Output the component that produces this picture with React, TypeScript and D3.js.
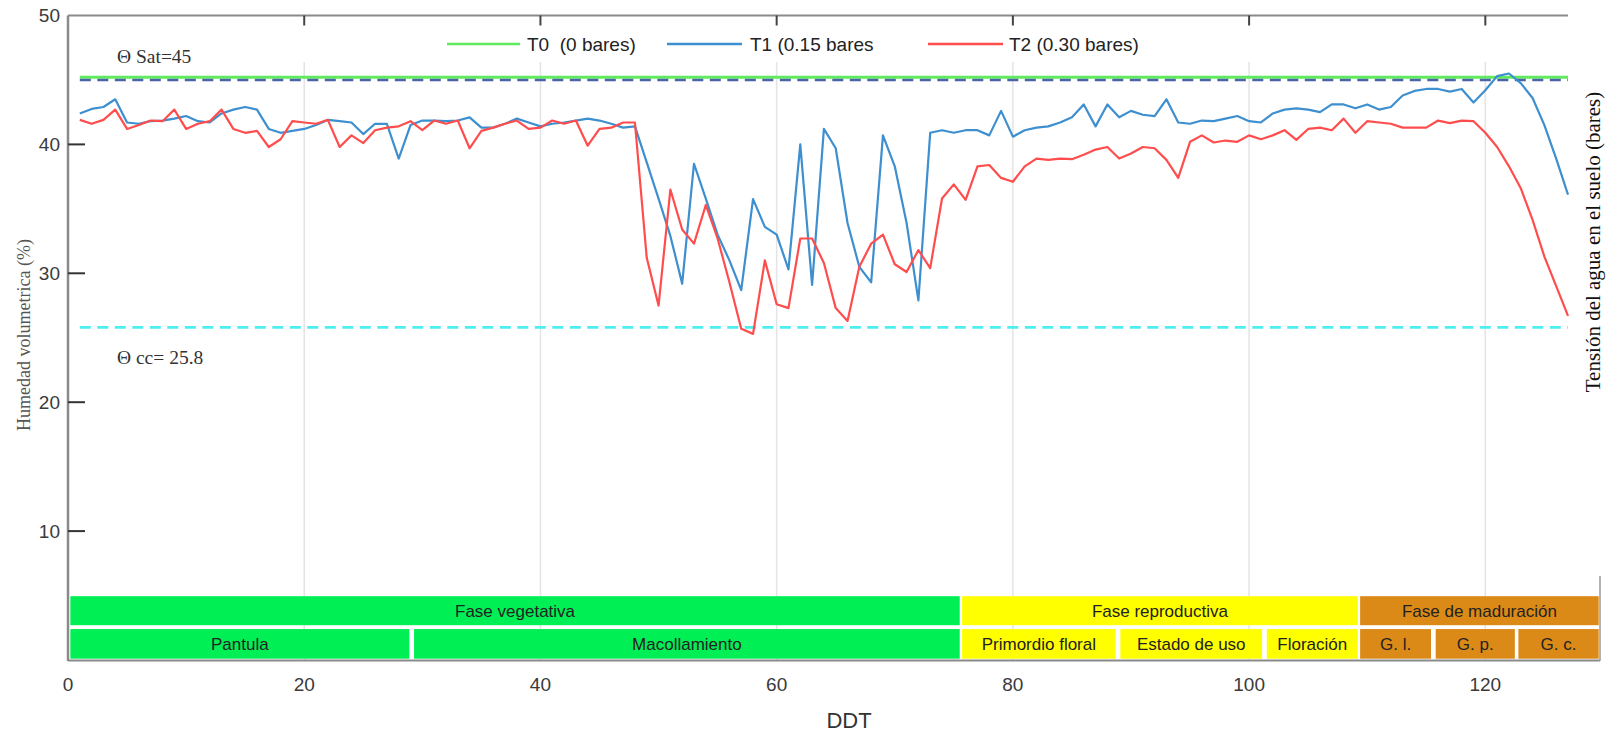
import React, { useEffect } from "react";
import * as d3 from "d3";

// ---------- data ----------
const t1Values = [
  42.4, 42.75, 42.9, 43.5, 41.7, 41.6, 41.8, 41.85, 42.0, 42.2,
  41.8, 41.7, 42.4, 42.7, 42.9, 42.7, 41.2, 40.9, 41.05, 41.2,
  41.5, 41.9, 41.8, 41.7, 40.8, 41.6, 41.6, 38.9, 41.5, 41.85,
  41.85, 41.8, 41.85, 42.1, 41.3, 41.3, 41.6, 42.0, 41.7, 41.4,
  41.6, 41.7, 41.85, 42.0, 41.85, 41.6, 41.3, 41.4, 38.6, 35.8,
  32.9, 29.2, 38.5, 35.8, 33.0, 31.0, 28.7, 35.75, 33.6, 33.0,
  30.3, 40.0, 29.1, 41.2, 39.7, 33.9, 30.5, 29.3, 40.7, 38.3,
  33.9, 27.9, 40.9, 41.1, 40.9, 41.1, 41.1, 40.7, 42.6, 40.6,
  41.1, 41.3, 41.4, 41.7, 42.1, 43.1, 41.4, 43.1, 42.1, 42.6,
  42.3, 42.2, 43.5, 41.7, 41.6, 41.85, 41.8, 42.0, 42.2, 41.8,
  41.7, 42.4, 42.7, 42.8, 42.7, 42.5, 43.1, 43.1, 42.8, 43.1,
  42.7, 42.9, 43.8, 44.15, 44.3, 44.3, 44.1, 44.3, 43.25, 44.2,
  45.3, 45.5, 44.75, 43.6, 41.5, 38.9, 36.1,
];
const t2Values = [
  41.9, 41.6, 41.9, 42.7, 41.2, 41.5, 41.85, 41.8, 42.7, 41.2,
  41.6, 41.8, 42.7, 41.2, 40.9, 41.05, 39.8, 40.4, 41.8, 41.7,
  41.6, 41.9, 39.8, 40.7, 40.1, 41.1, 41.3, 41.4, 41.8, 41.1,
  41.85, 41.6, 41.85, 39.7, 41.05, 41.3, 41.6, 41.85, 41.2, 41.3,
  41.85, 41.6, 41.85, 39.9, 41.2, 41.3, 41.7, 41.7, 31.2, 27.5,
  36.5, 33.4, 32.3, 35.3, 32.7, 29.3, 25.7, 25.3, 31.0, 27.6,
  27.3, 32.7, 32.7, 30.8, 27.3, 26.3, 30.5, 32.3, 33.0, 30.7,
  30.1, 31.8, 30.4, 35.8, 36.9, 35.7, 38.3, 38.4, 37.4, 37.1,
  38.3, 38.9, 38.8, 38.9, 38.85, 39.2, 39.6, 39.8, 38.9, 39.3,
  39.8, 39.7, 38.8, 37.4, 40.2, 40.7, 40.15, 40.3, 40.2, 40.7,
  40.4, 40.7, 41.1, 40.35, 41.2, 41.3, 41.1, 42.0, 40.9, 41.8,
  41.7, 41.6, 41.3, 41.3, 41.3, 41.85, 41.65, 41.85, 41.8, 40.9,
  39.8, 38.3, 36.6, 34.15, 31.3, 29.0, 26.7,
];
const t0Value = 45.2;
const thetaSat = 45;
const thetaCc = 25.8;
const firstDay = 1;

const xTicks = [0, 20, 40, 60, 80, 100, 120];
const yTicks = [10, 20, 30, 40, 50];

const legendLabels = ["T0  (0 bares)", "T1 (0.15 bares", "T2 (0.30 bares)"];

const phaseLabels = ["Fase vegetativa", "Fase reproductiva", "Fase de maduración"];
const phaseStart = [0.2, 75.7, 109.4];
const phaseEnd = [75.5, 109.2, 129.6];

const stageLabels = ["Pantula", "Macollamiento", "Primordio floral", "Estado de uso", "Floración", "G. l.", "G. p.", "G. c."];
const stageStart = [0.2, 29.3, 75.7, 89.1, 101.5, 109.4, 115.8, 122.8];
const stageEnd = [28.9, 75.5, 88.7, 101.1, 109.2, 115.4, 122.5, 129.6];
const stagePhase = [0, 0, 1, 1, 1, 2, 2, 2];

// ---------- layout / style ----------
const W = 1607;
const H = 734;
const X0 = 68;
const X1 = 1568;
const Y0 = 660;
const Y1 = 15.5;
const phaseColors = ["#00ef55", "#ffff00", "#dc8a17"];
const colT0 = "#5eec5e";
const colT1 = "#3d8fcf";
const colT2 = "#ff4d4d";
const colSat = "#4a62a6";
const colCc = "#4eeef0";
const SANS = "'Liberation Sans', Arial, sans-serif";
const SERIF = "'Liberation Serif', 'Times New Roman', serif";
const topBand = [2.7, 4.95];
const bottomBand = [0.1, 2.4];
const legendLineX = [[447, 520], [667, 742], [928, 1003]];
const legendTextX = [527, 750, 1009];
const legendY = 44;

export default function App() {
  useEffect(() => {
    document.body.style.margin = "0";
  }, []);

  const x = d3.scaleLinear().domain([0, 127]).range([X0, X1]);
  const y = d3.scaleLinear().domain([0, 50]).range([Y0, Y1]);

  const line = d3
    .line<number>()
    .x((_, i) => x(firstDay + i))
    .y((d) => y(d));

  const lastDay = firstDay + t1Values.length - 1;
  const legendColors = [colT0, colT1, colT2];

  return (
    <svg
      width={W}
      height={H}
      style={{ position: "absolute", left: 0, top: 0, display: "block", background: "#fff" }}
    >
      <rect x={0} y={0} width={W} height={H} fill="#fff" />
      {/* vertical grid */}
      {xTicks.filter((t) => t > 0).map((t) => (
        <line key={"g" + t} x1={x(t)} x2={x(t)} y1={62} y2={Y0} stroke="#e4e4e4" strokeWidth={1.5} />
      ))}

      {/* reference lines */}
      <line x1={x(firstDay)} x2={x(lastDay)} y1={y(t0Value)} y2={y(t0Value)} stroke={colT0} strokeWidth={3} />
      <line x1={x(firstDay)} x2={x(lastDay)} y1={y(thetaSat)} y2={y(thetaSat)} stroke={colSat} strokeWidth={2.6} strokeDasharray="11 6.5" />
      <line x1={x(firstDay)} x2={x(lastDay)} y1={y(thetaCc)} y2={y(thetaCc)} stroke={colCc} strokeWidth={2.8} strokeDasharray="11 6.5" />

      {/* data */}
      <path d={line(t1Values) || ""} fill="none" stroke={colT1} strokeWidth={2.2} strokeLinejoin="round" />
      <path d={line(t2Values) || ""} fill="none" stroke={colT2} strokeWidth={2.2} strokeLinejoin="round" />

      {/* phase bars */}
      {phaseLabels.map((lab, i) => (
        <g key={"p" + i}>
          <rect
            x={x(phaseStart[i])}
            width={x(phaseEnd[i]) - x(phaseStart[i])}
            y={y(topBand[1])}
            height={y(topBand[0]) - y(topBand[1])}
            fill={phaseColors[i]}
          />
          <text
            x={(x(phaseStart[i]) + x(phaseEnd[i])) / 2}
            y={(y(topBand[0]) + y(topBand[1])) / 2}
            dy="0.36em"
            textAnchor="middle"
            fontFamily={SANS}
            fontSize={17}
            fill="#222"
          >
            {lab}
          </text>
        </g>
      ))}
      {stageLabels.map((lab, i) => (
        <g key={"s" + i}>
          <rect
            x={x(stageStart[i])}
            width={x(stageEnd[i]) - x(stageStart[i])}
            y={y(bottomBand[1])}
            height={y(bottomBand[0]) - y(bottomBand[1])}
            fill={phaseColors[stagePhase[i]]}
          />
          <text
            x={(x(stageStart[i]) + x(stageEnd[i])) / 2}
            y={(y(bottomBand[0]) + y(bottomBand[1])) / 2}
            dy="0.36em"
            textAnchor="middle"
            fontFamily={SANS}
            fontSize={17}
            fill="#222"
          >
            {lab}
          </text>
        </g>
      ))}

      {/* axes */}
      <line x1={X0} x2={X1} y1={Y1} y2={Y1} stroke="#8a8a8a" strokeWidth={2.2} />
      <line x1={X0} x2={X0} y1={Y1} y2={Y0 + 1} stroke="#8a8a8a" strokeWidth={2.5} />
      <line x1={X0} x2={1600} y1={Y0 + 0.5} y2={Y0 + 0.5} stroke="#8a8a8a" strokeWidth={2.2} />
      <line x1={1600} x2={1600} y1={576} y2={Y0 + 1} stroke="#9a9a9a" strokeWidth={1.5} />
      {xTicks.filter((t) => t > 0).map((t) => (
        <line key={"tt" + t} x1={x(t)} x2={x(t)} y1={Y1} y2={Y1 + 10} stroke="#444" strokeWidth={2} />
      ))}
      {yTicks.filter((t) => t < 50).map((t) => (
        <line key={"yt" + t} x1={X0} x2={X0 + 17} y1={y(t)} y2={y(t)} stroke="#333" strokeWidth={2} />
      ))}
      {yTicks.map((t) => (
        <text key={"yl" + t} x={60} y={y(t)} dy="0.36em" textAnchor="end" fontFamily={SANS} fontSize={19} fill="#3a3a3a">
          {t}
        </text>
      ))}
      {xTicks.map((t) => (
        <text key={"xl" + t} x={x(t)} y={684} dy="0.36em" textAnchor="middle" fontFamily={SANS} fontSize={19} fill="#3a3a3a">
          {t}
        </text>
      ))}
      <text x={849} y={720} dy="0.36em" textAnchor="middle" fontFamily={SANS} fontSize={22} fill="#333">
        DDT
      </text>

      {/* annotations */}
      <text x={117} y={63} fontFamily={SERIF} fontSize={19.5} fill="#333">Θ Sat=45</text>
      <text x={117} y={364} fontFamily={SERIF} fontSize={19.5} fill="#333">Θ cc= 25.8</text>

      {/* axis titles */}
      <text
        transform={`translate(23.5,335) rotate(-90)`}
        dy="0.36em"
        textAnchor="middle"
        fontFamily={SERIF}
        fontSize={18}
        fill="#555"
      >
        Humedad volumetrica (%)
      </text>
      <text
        transform={`translate(1592,242) rotate(-90)`}
        dy="0.36em"
        textAnchor="middle"
        fontFamily={SERIF}
        fontSize={21}
        fill="#111"
      >
        Tensión del agua en el suelo (bares)
      </text>

      {/* legend */}
      {legendLabels.map((lab, i) => (
        <g key={"l" + i}>
          <line x1={legendLineX[i][0]} x2={legendLineX[i][1]} y1={legendY} y2={legendY} stroke={legendColors[i]} strokeWidth={2.5} />
          <text x={legendTextX[i]} y={legendY} dy="0.36em" fontFamily={SANS} fontSize={19} fill="#222" style={{ whiteSpace: "pre" }}>
            {lab}
          </text>
        </g>
      ))}
    </svg>
  );
}
